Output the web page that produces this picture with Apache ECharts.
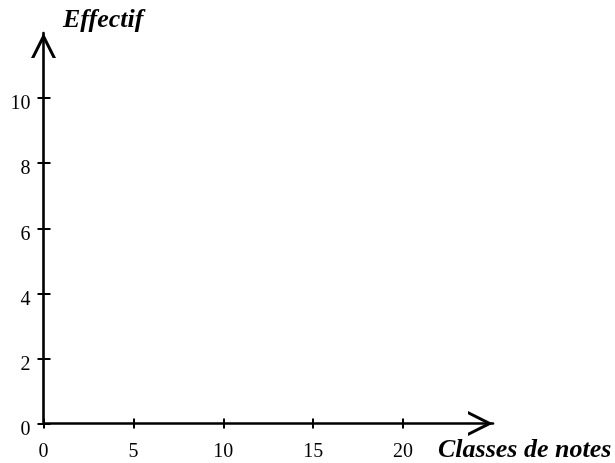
<!DOCTYPE html>
<html>
<head>
<meta charset="utf-8">
<script src="https://cdn.jsdelivr.net/npm/echarts@6/dist/echarts.min.js"></script>
<style>html,body{margin:0;padding:0;background:#fff;}#c{width:615px;height:463px;}</style>
</head>
<body>
<div id="c"></div>
<script>
// Data (empty chart: only axes)
const xTicks = [0, 5, 10, 15, 20];
const yTicks = [0, 2, 4, 6, 8, 10];
const xMax = 25;
const yMax = 12;
const xName = 'Classes de notes';
const yName = 'Effectif';
const seriesData = [];

const chart = echarts.init(document.getElementById('c'), null, {renderer: 'canvas'});
const arrowPath = 'path://M12.5 0 L25 25 L21.65 25 L12.5 6.7 L3.35 25 L0 25 Z';
const serif = 'Liberation Serif';
const gridLeft = 43.5, gridRight = 122, gridTop = 33, gridBottom = 39.5;
const gridW = 615 - gridLeft - gridRight;
const gridH = 463 - gridTop - gridBottom;
const lineW = 2.6;

function baseAxis(extra) {
  return Object.assign({
    type: 'value', min: 0, splitLine: {show: false},
    axisLine: {show: false, onZero: false},
    axisLabel: {show: false}
  }, extra);
}

chart.setOption({
  animation: false,
  backgroundColor: '#fff',
  title: [
    {text: yName, left: 58, top: 2, textStyle: {fontFamily: serif, fontSize: 26, fontWeight: 'bold', fontStyle: 'italic', color: '#000'}},
    {text: xName, left: 433, top: 432, textStyle: {fontFamily: serif, fontSize: 26, fontWeight: 'bold', fontStyle: 'italic', color: '#000'}}
  ],
  grid: {left: gridLeft, right: gridRight, top: gridTop, bottom: gridBottom, outerBoundsMode: 'none', containLabel: false},
  xAxis: [
    baseAxis({
      position: 'bottom', max: xMax,
      axisLine: {show: true, onZero: false, symbol: ['none', arrowPath], symbolSize: [25, 25], symbolOffset: [0, -12.5], lineStyle: {color: '#000', width: lineW}},
      axisTick: {show: true, length: 5, customValues: xTicks, lineStyle: {color: '#000', width: 2}},
      axisLabel: {show: true, customValues: xTicks, margin: 18, fontFamily: serif, fontSize: 20, color: '#000'}
    }),
    baseAxis({
      position: 'top', offset: -gridH, max: xMax,
      axisTick: {show: true, length: 5, customValues: xTicks, lineStyle: {color: '#000', width: 2}}
    })
  ],
  yAxis: [
    baseAxis({
      position: 'left', max: yMax,
      axisLine: {show: true, onZero: false, symbol: ['none', arrowPath], symbolSize: [25, 25], symbolOffset: [0, -12.5], lineStyle: {color: '#000', width: lineW}},
      axisTick: {show: true, length: 6, customValues: yTicks, lineStyle: {color: '#000', width: 2}},
      axisLabel: {show: true, customValues: yTicks, margin: 13, fontFamily: serif, fontSize: 20, color: '#000', verticalAlign: 'top', lineHeight: 12}
    }),
    baseAxis({
      position: 'right', offset: -gridW, max: yMax,
      axisTick: {show: true, length: 7, customValues: yTicks, lineStyle: {color: '#000', width: 2}}
    })
  ],
  series: [{type: 'scatter', xAxisIndex: 0, yAxisIndex: 0, data: seriesData}]
});
</script>
</body>
</html>
